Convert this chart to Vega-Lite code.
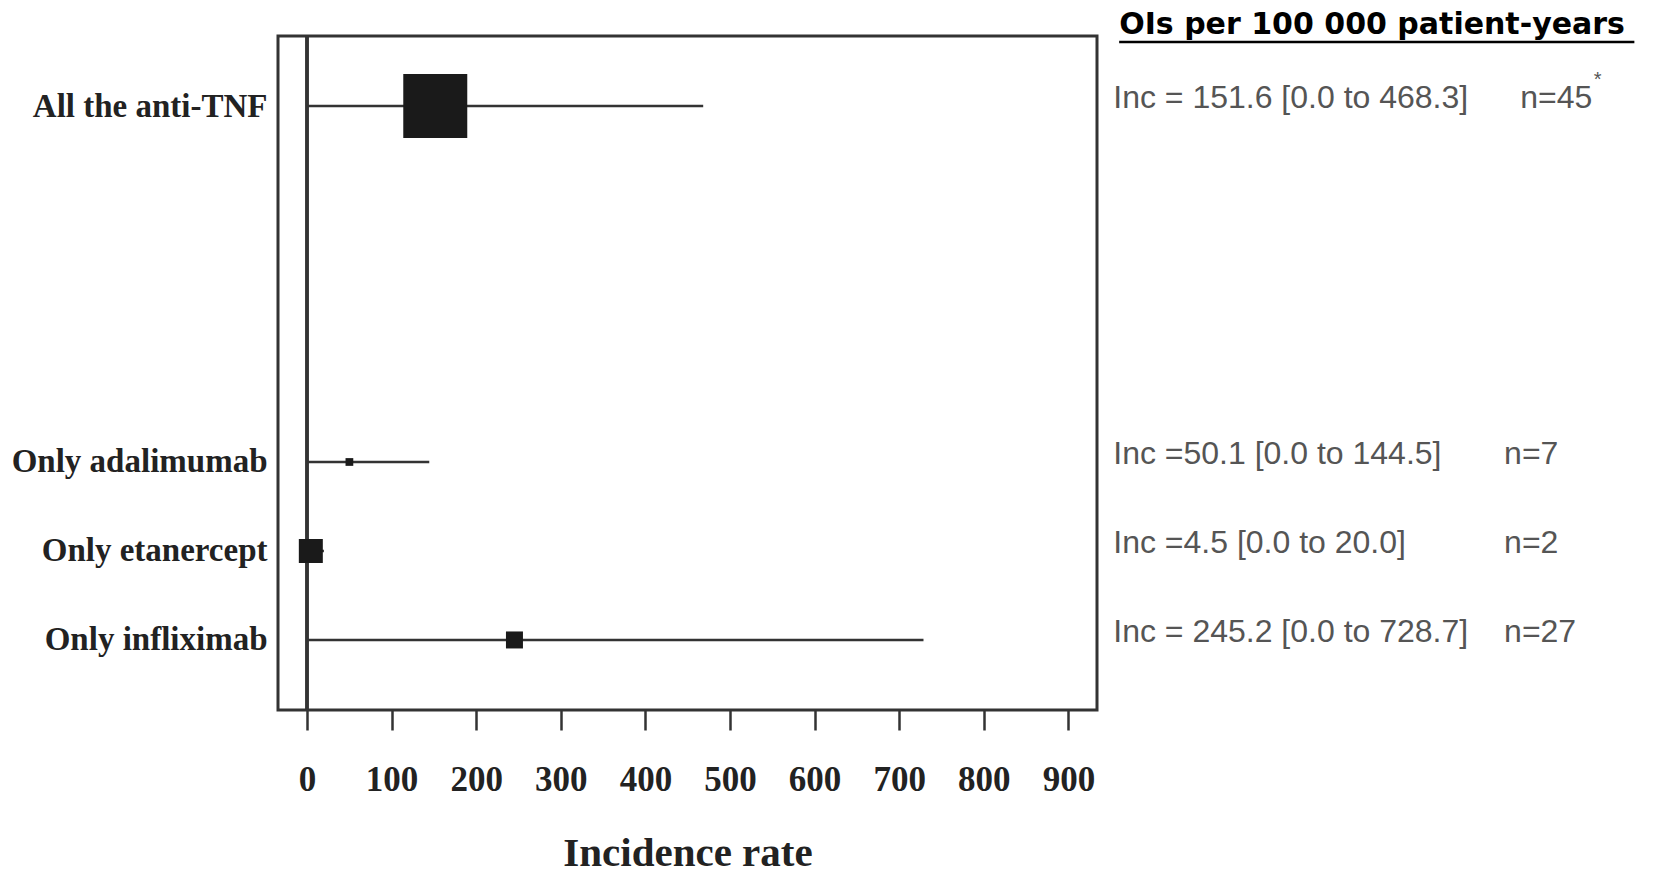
{
  "$schema": "https://vega.github.io/schema/vega-lite/v6.json",
  "autosize": {"type": "none"},
  "width": 819,
  "height": 674,
  "padding": {"left": 278, "top": 36, "right": 558, "bottom": 167},
  "background": "white",
  "config": {"view": {"stroke": "#333333", "strokeWidth": 3}},
  "datasets": {
    "forest": [
      {"group": "All the anti-TNF", "inc": 151.6, "lo": 0.0, "hi": 468.3, "n": 45, "nlabel": "n=45", "summary": "Inc = 151.6 [0.0  to 468.3]"},
      {"group": "Only adalimumab", "inc": 50.1, "lo": 0.0, "hi": 144.5, "n": 7, "nlabel": "n=7", "summary": "Inc =50.1 [0.0  to 144.5]"},
      {"group": "Only etanercept", "inc": 4.5, "lo": 0.0, "hi": 20.0, "n": 2, "nlabel": "n=2", "summary": "Inc =4.5 [0.0  to 20.0]"},
      {"group": "Only infliximab", "inc": 245.2, "lo": 0.0, "hi": 728.7, "n": 27, "nlabel": "n=27", "summary": "Inc = 245.2 [0.0  to 728.7]"}
    ],
    "header": [
      {"title": "OIs per 100 000 patient-years"}
    ]
  },
  "resolve": {"scale": {"y": "independent"}},
  "layer": [
    {
      "data": {"name": "forest"},
      "encoding": {
        "y": {
          "field": "group",
          "type": "nominal",
          "scale": {
            "type": "point",
            "domain": ["All the anti-TNF", "gap1", "gap2", "gap3", "Only adalimumab", "Only etanercept", "Only infliximab"],
            "padding": 0.787
          },
          "axis": {
            "values": ["All the anti-TNF", "Only adalimumab", "Only etanercept", "Only infliximab"],
            "ticks": false,
            "domain": false,
            "grid": false,
            "title": null,
            "labelFont": "Liberation Serif",
            "labelFontWeight": "bold",
            "labelFontSize": 33,
            "labelColor": "#222222",
            "labelPadding": 11,
            "labelLimit": 400
          }
        }
      },
      "layer": [
        {
          "mark": {"type": "rule", "color": "#333333", "strokeWidth": 3},
          "encoding": {
            "x": {"datum": 0, "type": "quantitative"},
            "y": null
          }
        },
        {
          "mark": {"type": "rule", "color": "#333333", "strokeWidth": 2.5},
          "encoding": {
            "x": {
              "field": "lo",
              "type": "quantitative",
              "scale": {"domain": [-34.3, 933.8], "nice": false, "zero": false},
              "axis": {
                "values": [0, 100, 200, 300, 400, 500, 600, 700, 800, 900],
                "domain": false,
                "grid": false,
                "ticks": true,
                "tickSize": 20,
                "tickWidth": 2.5,
                "tickColor": "#333333",
                "labelFont": "Liberation Serif",
                "labelFontWeight": "bold",
                "labelFontSize": 35,
                "labelColor": "#222222",
                "labelPadding": 32,
                "labelFlush": false,
                "title": "Incidence rate",
                "titleFont": "Liberation Serif",
                "titleFontSize": 41,
                "titleFontWeight": "bold",
                "titleColor": "#222222",
                "titlePadding": 36
              }
            },
            "x2": {"field": "hi"}
          }
        },
        {
          "mark": {"type": "point", "shape": "square", "filled": true, "color": "#1a1a1a", "opacity": 1},
          "encoding": {
            "x": {"field": "inc", "type": "quantitative"},
            "size": {
              "field": "group",
              "type": "nominal",
              "scale": {
                "type": "ordinal",
                "domain": ["All the anti-TNF", "Only adalimumab", "Only etanercept", "Only infliximab"],
                "range": [4096, 60, 576, 289]
              },
              "legend": null
            }
          }
        },
        {
          "mark": {"type": "text", "align": "left", "baseline": "middle", "dy": -8, "font": "Liberation Sans", "fontSize": 32, "color": "#555555"},
          "encoding": {
            "x": {"datum": 953, "type": "quantitative"},
            "text": {"field": "summary"}
          }
        },
        {
          "transform": [{"filter": "datum.group != 'All the anti-TNF'"}],
          "mark": {"type": "text", "align": "left", "baseline": "middle", "dy": -8, "font": "Liberation Sans", "fontSize": 32, "color": "#555555"},
          "encoding": {
            "x": {"datum": 1415, "type": "quantitative"},
            "text": {"field": "nlabel"}
          }
        },
        {
          "transform": [{"filter": "datum.group == 'All the anti-TNF'"}],
          "mark": {"type": "text", "align": "left", "baseline": "middle", "dy": -8, "font": "Liberation Sans", "fontSize": 32, "color": "#555555"},
          "encoding": {
            "x": {"datum": 1434, "type": "quantitative"},
            "text": {"field": "nlabel"}
          }
        },
        {
          "transform": [{"filter": "datum.group == 'All the anti-TNF'"}],
          "mark": {"type": "text", "align": "left", "baseline": "middle", "dy": -26, "font": "Liberation Sans", "fontSize": 20, "color": "#555555", "text": "*"},
          "encoding": {
            "x": {"datum": 1521, "type": "quantitative"}
          }
        }
      ]
    },
    {
      "data": {"name": "header"},
      "layer": [
        {
          "mark": {"type": "text", "align": "left", "baseline": "alphabetic", "font": "DejaVu Sans", "fontWeight": "bold", "fontSize": 30, "color": "#000000"},
          "encoding": {
            "x": {"datum": 960, "type": "quantitative"},
            "y": {"datum": -0.81, "type": "quantitative", "scale": {"domain": [-0.787, 6.787], "reverse": true, "nice": false, "zero": false}, "axis": null},
            "text": {"field": "title"}
          }
        },
        {
          "mark": {"type": "rule", "color": "#000000", "strokeWidth": 2.5},
          "encoding": {
            "x": {"datum": 960, "type": "quantitative"},
            "x2": {"datum": 1569},
            "y": {"datum": -0.72, "type": "quantitative", "axis": null}
          }
        }
      ]
    }
  ]
}
